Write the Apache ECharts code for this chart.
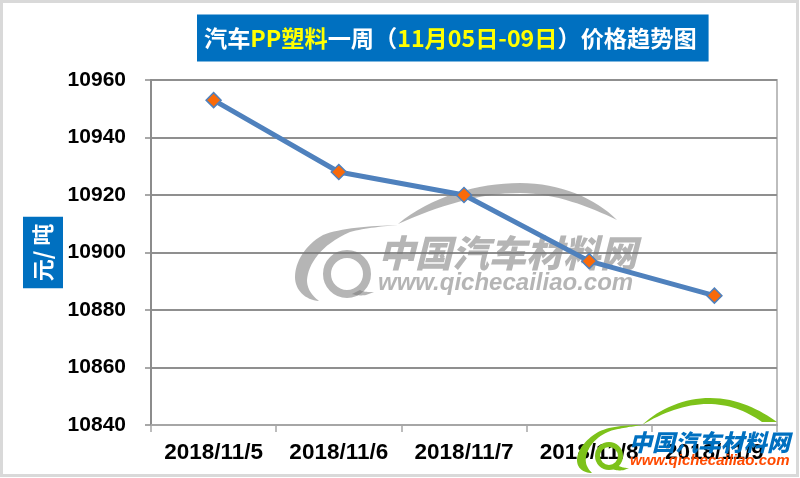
<!DOCTYPE html>
<html><head><meta charset="utf-8">
<style>html,body{margin:0;padding:0;background:#fff}#c{width:800px;height:478px}</style>
<script src="https://cdn.jsdelivr.net/npm/echarts@6/dist/echarts.min.js"></script>
</head><body><div id="c"></div>
<script>
const categories = ['2018/11/5','2018/11/6','2018/11/7','2018/11/8','2018/11/9'];
const prices = [10953, 10928, 10920, 10897, 10885];
const unitLabel = '元/ 吨';
const cjk = '"Noto Sans CJK SC","Liberation Sans",sans-serif';
const latin = '"Liberation Sans",Arial,sans-serif';
const grey = 'rgba(120,120,120,0.55)';
const green = '#7dc21a';
// flatten a small M/C/L outline into polygon points for the decorative logos
function outline(d){
  const n = d.match(/[MCL]|-?[\d.]+/g); const pts=[]; let i=0, cur=null;
  while(i<n.length){
    const c=n[i++];
    if(c==='M'||c==='L'){cur=[+n[i++],+n[i++]];pts.push(cur);}
    else if(c==='C'){
      const a=[+n[i++],+n[i++]],b=[+n[i++],+n[i++]],e=[+n[i++],+n[i++]];
      for(let k=1;k<=16;k++){const t=k/16,u=1-t;
        pts.push([u*u*u*cur[0]+3*u*u*t*a[0]+3*u*t*t*b[0]+t*t*t*e[0],u*u*u*cur[1]+3*u*u*t*a[1]+3*u*t*t*b[1]+t*t*t*e[1]]);}
      cur=e;
    }
  }
  return pts;
}
function shapeEl(d,fill,z){return {type:'polygon',z:z,silent:true,shape:{points:outline(d)},style:{fill:fill}};}
const chart = echarts.init(document.getElementById('c'), null, {renderer:'canvas'});
chart.setOption({
  animation:false,
  backgroundColor:'#fff',
  title:{
    left:197, top:11, backgroundColor:'#0070c0', padding:[12,12,12,7],
    text:'{w|汽车}{y|PP塑料}{w|一周（}{y|11月05日-09日}{w|）价格趋势图}',
    textStyle:{rich:{
      w:{color:'#fff',fontFamily:cjk,fontWeight:'bold',fontSize:23.2,lineHeight:30},
      y:{color:'#ffff00',fontFamily:cjk,fontWeight:'bold',fontSize:23.2,lineHeight:30}
    }}
  },
  grid:{left:151,right:23,top:80,bottom:53,show:true,borderColor:'#bdbdbd',borderWidth:2,backgroundColor:'transparent'},
  xAxis:{
    type:'category',data:categories,boundaryGap:true,
    axisLine:{lineStyle:{color:'#a6a6a6',width:2}},
    axisTick:{show:true,length:7,alignWithLabel:false,lineStyle:{color:'#a6a6a6',width:1.5}},
    axisLabel:{color:'#000',fontFamily:latin,fontWeight:'bold',fontSize:22.5,margin:16,interval:0,hideOverlap:false}
  },
  yAxis:{
    type:'value',min:10840,max:10960,interval:20,
    name:unitLabel,nameLocation:'middle',nameRotate:90,nameGap:88,nameMoveOverlap:false,
    nameTextStyle:{color:'#fff',fontFamily:cjk,fontWeight:'bold',fontSize:22,backgroundColor:'#0070c0',padding:[9,7,9,7]},
    axisLine:{show:true,lineStyle:{color:'#8c8c8c',width:2}},
    axisTick:{show:true,length:6,lineStyle:{color:'#8c8c8c',width:1.5}},
    splitLine:{lineStyle:{color:'#8f8f8f',width:2}},
    axisLabel:{color:'#000',fontFamily:latin,fontWeight:'bold',fontSize:21,margin:25,formatter:function(v){return String(v);}}
  },
  series:[{
    type:'line',data:prices,z:5,symbol:'diamond',symbolSize:15,
    lineStyle:{color:'#4f81bd',width:5,cap:'round'},
    itemStyle:{color:'#f96a0a',borderColor:'#4f81bd',borderWidth:1.5}
  }],
  graphic:[
    {type:'rect',z:100,silent:true,shape:{x:1.5,y:1.5,width:796,height:474},style:{fill:'transparent',stroke:'#d9d9d9',lineWidth:3}},
    shapeEl('M398,224 C430,197 478,183 520,183 C560,183 595,198 617,220 C590,207 555,193 520,193 C480,193 438,206 398,224',grey,1),
    shapeEl('M398,225 C370,226 340,228 323,235 C305,245 295,262 295,277 C295,290 305,300 319,301 C311,295 307,288 307,280 C308,265 320,245 350,232 C365,228 385,226 398,225',grey,1),
    {type:'circle',z:1,silent:true,shape:{cx:347,cy:274,r:20},style:{fill:'transparent',stroke:grey,lineWidth:8}},
    shapeEl('M360,290 C363,292 368,292 374,292 L366,295 C360,296 355,295 352,294',grey,1),
    {type:'text',z:1,silent:true,x:378,y:253,style:{text:'中国汽车材料网',fill:grey,font:'italic 900 37px '+cjk,textVerticalAlign:'middle'}},
    {type:'text',z:1,silent:true,x:378,y:283,style:{text:'www.qichecailiao.com',fill:grey,font:'italic bold 24px '+latin,textVerticalAlign:'middle'}},
    shapeEl('M642,425 C660,408 685,398 710,398 C738,398 760,410 777,422 L762,422 C745,410 728,404 708,404 C685,404 662,413 642,425',green,50),
    shapeEl('M642,425 C622,425 605,427 595,434 C583,442 577,452 577,460 C577,468 583,473 592,473 C587,468 585,463 586,457 C588,445 600,432 618,429 C628,427 636,426 642,425',green,50),
    {type:'circle',z:50,silent:true,shape:{cx:609,cy:456,r:11.5},style:{fill:'transparent',stroke:green,lineWidth:5}},
    shapeEl('M617,465 C620,467 624,468 629,468 L624,470 C619,471 615,470 612,469',green,50),
    {type:'text',z:50,silent:true,x:629,y:442,style:{text:'中国汽车材料网',fill:'#0070c0',font:'italic 900 23px '+cjk,textVerticalAlign:'middle'}},
    {type:'text',z:50,silent:true,x:630,y:461,style:{text:'www.qichecailiao.com',fill:'#ff4a00',font:'italic bold 15px '+latin,textVerticalAlign:'middle'}}
  ]
});
</script></body></html>
